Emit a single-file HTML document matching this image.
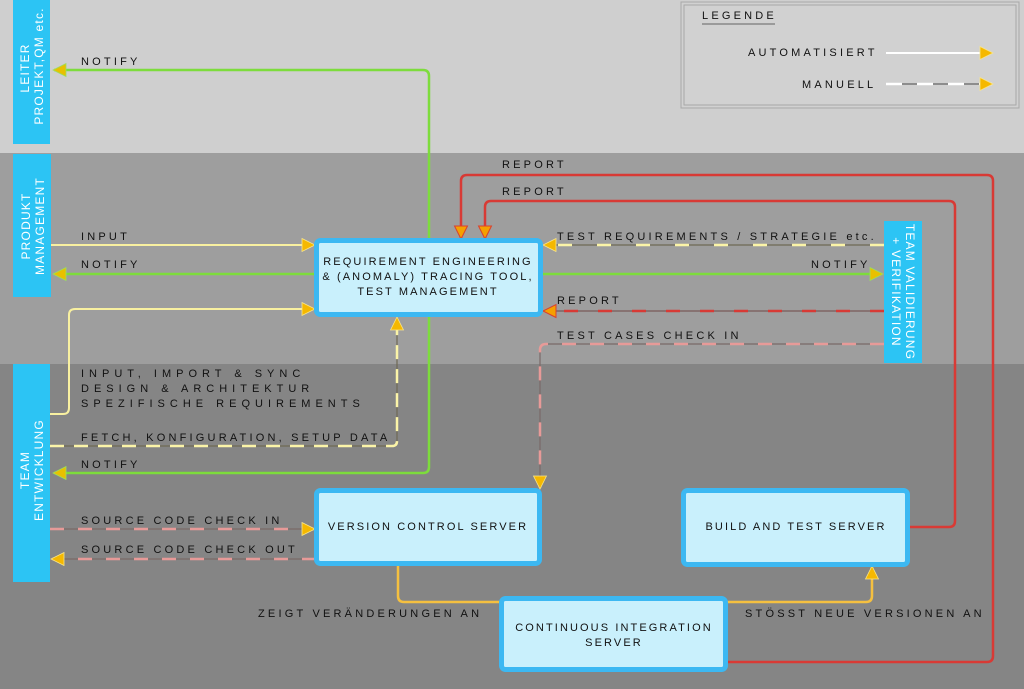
<!DOCTYPE html>
<html><head><meta charset="utf-8"><style>
html,body{margin:0;padding:0;background:#858585}
svg{display:block}
text{font-family:"Liberation Sans",sans-serif;font-size:11px;letter-spacing:3.2px;fill:#111}
.w{fill:#fff;font-size:12px;letter-spacing:1.2px}
.b{font-size:11px;letter-spacing:2.1px;fill:#111}
</style></head><body>
<svg width="1024" height="689" viewBox="0 0 1024 689" xmlns="http://www.w3.org/2000/svg">
<defs>
<marker id="ay" markerWidth="16" markerHeight="16" refX="13" refY="8" orient="auto" markerUnits="userSpaceOnUse"><path d="M1,1.5 L14,8 L1,14.5 Z" fill="#f5b800" stroke="#f8e58a" stroke-width="0.8"/></marker>
<marker id="ag" markerWidth="16" markerHeight="16" refX="13" refY="8" orient="auto" markerUnits="userSpaceOnUse"><path d="M1,1.5 L14,8 L1,14.5 Z" fill="#e8c000" stroke="#9be05a" stroke-width="0.8"/></marker>
<marker id="ar" markerWidth="16" markerHeight="16" refX="13" refY="8" orient="auto" markerUnits="userSpaceOnUse"><path d="M1,1.5 L14,8 L1,14.5 Z" fill="#f5a000" stroke="#d94030" stroke-width="1"/></marker>
</defs>
<rect x="0" y="0" width="1024" height="153" fill="#cfcfcf"/>
<rect x="0" y="153" width="1024" height="211" fill="#9e9e9e"/>
<rect x="0" y="364" width="1024" height="325" fill="#858585"/>

<rect x="681" y="2" width="338" height="106" fill="#d1d1d1" stroke="#a8a8a8" stroke-width="1"/>
<rect x="684" y="5" width="332" height="100" fill="none" stroke="#a8a8a8" stroke-width="1"/>
<text x="702" y="19">LEGENDE</text>
<line x1="702" y1="24" x2="775" y2="24" stroke="#888" stroke-width="1.5"/>
<text x="748" y="56">AUTOMATISIERT</text>
<line x1="886" y1="53" x2="992" y2="53" stroke="#fff" stroke-width="2" marker-end="url(#ay)"/>
<text x="802" y="88">MANUELL</text>
<line x1="886" y1="84" x2="992" y2="84" stroke="#777" stroke-width="1.5"/>
<line x1="886" y1="84" x2="992" y2="84" stroke="#fff" stroke-width="2.5" stroke-dasharray="16 15" marker-end="url(#ay)"/>

<path d="M727,662 H987 Q993,662 993,656 V181 Q993,175 987,175 H467 Q461,175 461,181 V238" fill="none" stroke="#d83a35" stroke-width="2.5" marker-end="url(#ar)"/>
<path d="M908,527 H949 Q955,527 955,521 V207 Q955,201 949,201 H491 Q485,201 485,207 V238" fill="none" stroke="#d83a35" stroke-width="2.5" marker-end="url(#ar)"/>
<text x="502" y="168">REPORT</text>
<text x="502" y="195">REPORT</text>

<path d="M429,240 V76 Q429,70 423,70 H54" fill="none" stroke="#7ddc3c" stroke-width="2.5" marker-end="url(#ag)"/>
<text x="81" y="65">NOTIFY</text>
<path d="M429,316 V467 Q429,473 423,473 H54" fill="none" stroke="#7ddc3c" stroke-width="2.5" marker-end="url(#ag)"/>
<text x="81" y="468">NOTIFY</text>
<line x1="316" y1="274" x2="54" y2="274" stroke="#7ddc3c" stroke-width="2.5" marker-end="url(#ag)"/>
<text x="81" y="268">NOTIFY</text>
<line x1="542" y1="274" x2="882" y2="274" stroke="#7ddc3c" stroke-width="2.5" marker-end="url(#ag)"/>
<text x="811" y="268">NOTIFY</text>

<line x1="51" y1="245" x2="314" y2="245" stroke="#f8f0a0" stroke-width="2" marker-end="url(#ay)"/>
<text x="81" y="240">INPUT</text>
<path d="M50,414 H63 Q69,414 69,408 V315 Q69,309 75,309 H314" fill="none" stroke="#f8f0a0" stroke-width="2" marker-end="url(#ay)"/>
<text x="81" y="377" style="letter-spacing:5px">INPUT, IMPORT &amp; SYNC</text>
<text x="81" y="392" style="letter-spacing:5px">DESIGN &amp; ARCHITEKTUR</text>
<text x="81" y="407" style="letter-spacing:5px">SPEZIFISCHE REQUIREMENTS</text>
<path d="M50,446 H392 Q397,446 397,441 V318" fill="none" stroke="#6f6a55" stroke-width="1.2"/>
<path d="M50,446 H392 Q397,446 397,441 V318" fill="none" stroke="#fbf4a8" stroke-width="2.5" stroke-dasharray="14 10" marker-end="url(#ay)"/>
<text x="81" y="441">FETCH, KONFIGURATION, SETUP DATA</text>

<line x1="884" y1="245" x2="544" y2="245" stroke="#6f6a55" stroke-width="1.2"/>
<line x1="884" y1="245" x2="544" y2="245" stroke="#fbf4a8" stroke-width="2.5" stroke-dasharray="14 25" marker-end="url(#ay)"/>
<text x="557" y="240">TEST REQUIREMENTS / STRATEGIE etc.</text>
<line x1="884" y1="311" x2="544" y2="311" stroke="#7a5a58" stroke-width="1.2"/>
<line x1="884" y1="311" x2="544" y2="311" stroke="#d83a35" stroke-width="2.5" stroke-dasharray="14 20" marker-end="url(#ar)"/>
<text x="557" y="304">REPORT</text>
<path d="M884,344 H546 Q540,344 540,350 V488" fill="none" stroke="#7a6a68" stroke-width="1.2"/>
<path d="M884,344 H546 Q540,344 540,350 V488" fill="none" stroke="#e79a98" stroke-width="2.5" stroke-dasharray="14 14" marker-end="url(#ay)"/>
<text x="557" y="339">TEST CASES CHECK IN</text>

<line x1="50" y1="529" x2="314" y2="529" stroke="#7a6a68" stroke-width="1.2"/>
<line x1="50" y1="529" x2="314" y2="529" stroke="#e79a98" stroke-width="2.5" stroke-dasharray="14 14" marker-end="url(#ay)"/>
<text x="81" y="524">SOURCE CODE CHECK IN</text>
<line x1="316" y1="559" x2="52" y2="559" stroke="#7a6a68" stroke-width="1.2"/>
<line x1="316" y1="559" x2="52" y2="559" stroke="#e79a98" stroke-width="2.5" stroke-dasharray="14 14" marker-end="url(#ay)"/>
<text x="81" y="553">SOURCE CODE CHECK OUT</text>

<path d="M398,566 V596 Q398,602 404,602 H502" fill="none" stroke="#f5c040" stroke-width="2.5"/>
<text x="258" y="617">ZEIGT VERÄNDERUNGEN AN</text>
<path d="M727,602 H866 Q872,602 872,596 V567" fill="none" stroke="#f5c040" stroke-width="2.5" marker-end="url(#ay)"/>
<text x="745" y="617">STÖSST NEUE VERSIONEN AN</text>

<rect x="13" y="0" width="37" height="144" fill="#2cc4f4"/>
<text class="w" transform="translate(29,68) rotate(-90)" text-anchor="middle">LEITER</text>
<text class="w" transform="translate(43,66) rotate(-90)" text-anchor="middle">PROJEKT,QM etc.</text>
<rect x="13" y="154" width="38" height="143" fill="#2cc4f4"/>
<text class="w" transform="translate(30,226) rotate(-90)" text-anchor="middle">PRODUKT</text>
<text class="w" transform="translate(44,226) rotate(-90)" text-anchor="middle">MANAGEMENT</text>
<rect x="13" y="364" width="37" height="218" fill="#2cc4f4"/>
<text class="w" transform="translate(29,470) rotate(-90)" text-anchor="middle">TEAM</text>
<text class="w" transform="translate(43,470) rotate(-90)" text-anchor="middle">ENTWICKLUNG</text>
<rect x="884" y="221" width="38" height="142" fill="#2cc4f4"/>
<text class="w" transform="translate(906,292) rotate(90)" text-anchor="middle">TEAM VALIDIERUNG</text>
<text class="w" transform="translate(892,292) rotate(90)" text-anchor="middle">+ VERIFIKATION</text>

<rect x="316.5" y="240.5" width="224" height="74" rx="4" fill="#c9f0fc" stroke="#3cb8f2" stroke-width="5"/>
<text class="b" x="428" y="265" text-anchor="middle">REQUIREMENT ENGINEERING</text>
<text class="b" x="428" y="280" text-anchor="middle">&amp; (ANOMALY) TRACING TOOL,</text>
<text class="b" x="428" y="295" text-anchor="middle">TEST MANAGEMENT</text>
<rect x="316.5" y="490.5" width="223" height="73" rx="4" fill="#c9f0fc" stroke="#3cb8f2" stroke-width="5"/>
<text class="b" x="428" y="530" text-anchor="middle">VERSION CONTROL SERVER</text>
<rect x="683.5" y="490.5" width="224" height="74" rx="4" fill="#c9f0fc" stroke="#3cb8f2" stroke-width="5"/>
<text class="b" x="796" y="530" text-anchor="middle">BUILD AND TEST SERVER</text>
<rect x="501.5" y="598.5" width="224" height="71" rx="4" fill="#c9f0fc" stroke="#3cb8f2" stroke-width="5"/>
<text class="b" x="614" y="631" text-anchor="middle">CONTINUOUS INTEGRATION</text>
<text class="b" x="614" y="646" text-anchor="middle">SERVER</text>
</svg>
</body></html>
